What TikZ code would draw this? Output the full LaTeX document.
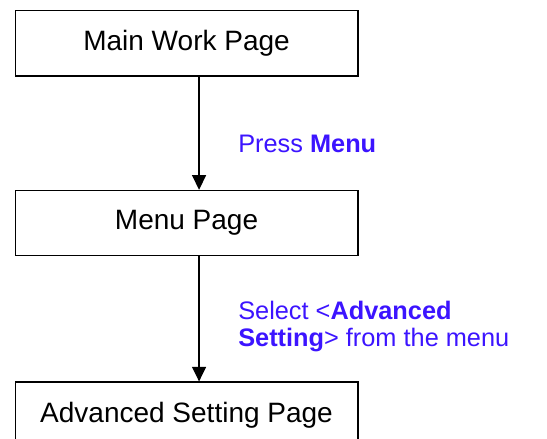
\documentclass[tikz,border=0pt]{standalone}
\usepackage{fontspec}
\setmainfont{Liberation Sans}
\usetikzlibrary{positioning, arrows.meta}
\definecolor{hintblue}{RGB}{60,20,255}
\tikzset{
    page/.style={draw, line width=1pt, minimum width=257pt, minimum height=49pt,
      font=\fontsize{21}{25}\selectfont},
    flow/.style={line width=1pt, -{Triangle[length=11pt, width=10.5pt]}},
    hint/.style={text=hintblue, anchor=west, align=left, inner sep=0pt,
      font=\fontsize{19}{20.3}\selectfont},
}

\begin{document}
\begin{tikzpicture}
    \useasboundingbox (0,0) rectangle (410.25pt,-329.25pt);

    \node[page] (main) at (139.9pt,-32.6pt) {Main Work Page};
    \node[page, below=84.75pt of main] (menu) {Menu Page};
    \node[page, below=93.75pt of menu] (adv) {Advanced Setting Page};

    \draw[flow] ([xshift=9.4pt]main.south) -- ([xshift=9.4pt]menu.north);
    \draw[flow] ([xshift=9.4pt]menu.south) -- ([xshift=9.4pt]adv.north);

    \node[hint] (pressmenu) at (178.5pt,-108pt) {Press \textbf{Menu}};
    \node[hint] (selectadv) at (178.5pt,-244.9pt)
      {Select <\textbf{Advanced}\\\textbf{Setting}> from the menu};
\end{tikzpicture}
\end{document}
